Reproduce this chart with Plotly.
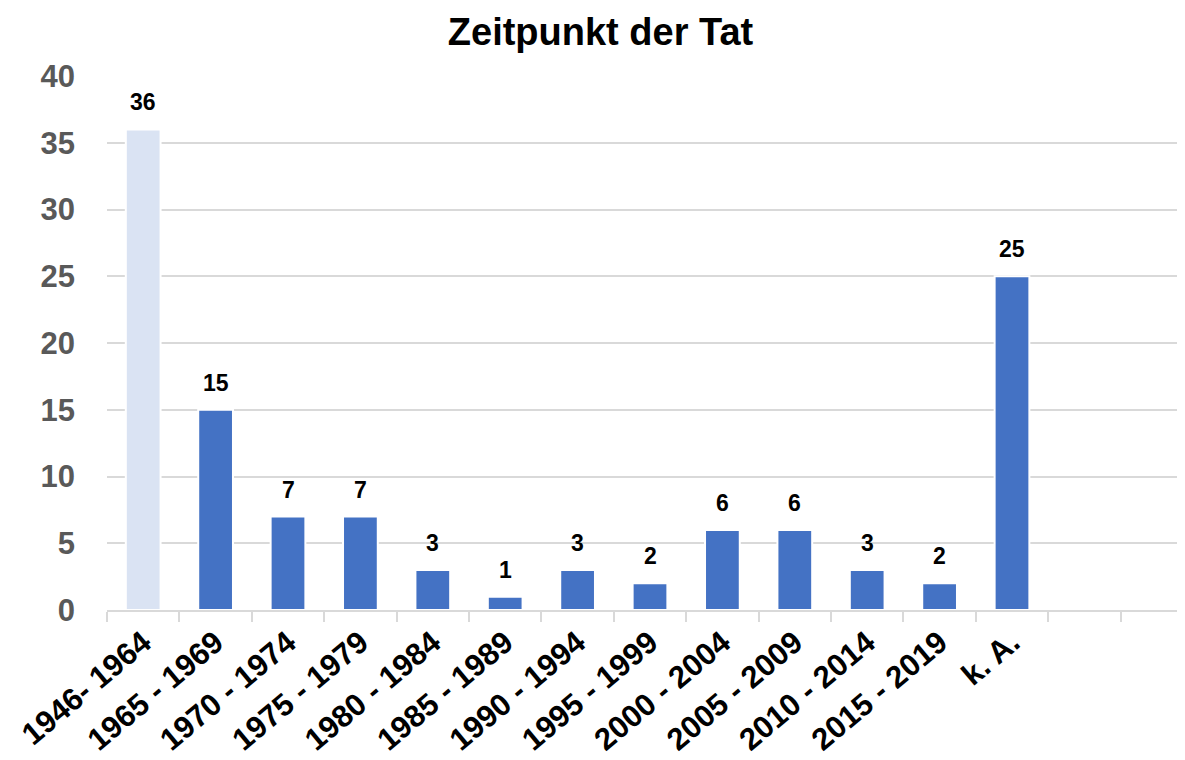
import plotly.graph_objects as go

categories = ["1946- 1964", "1965 - 1969", "1970 - 1974", "1975 - 1979", "1980 - 1984",
              "1985 - 1989", "1990 - 1994", "1995 - 1999", "2000 - 2004", "2005 - 2009",
              "2010 - 2014", "2015 - 2019", "k. A."]
values = [36, 15, 7, 7, 3, 1, 3, 2, 6, 6, 3, 2, 25]
empty_slots = [" ", "  "]
bar_colors = ["#DAE3F3"] + ["#4472C4"] * (len(categories) - 1)

all_cats = categories + empty_slots
FONT = "Liberation Sans"

fig = go.Figure()
fig.add_trace(go.Bar(
    x=categories, y=values,
    marker=dict(color=bar_colors, line=dict(color="white", width=2)),
    width=0.48,
    cliponaxis=False,
    hoverinfo="skip",
))

for c, v in zip(categories, values):
    fig.add_annotation(
        x=c, y=v, text=f"<b>{v}</b>", showarrow=False,
        yanchor="bottom", yshift=12,
        font=dict(family=FONT, size=23, color="black"),
    )

fig.update_layout(
    width=1185, height=760,
    margin=dict(l=99, r=0, t=68, b=158, autoexpand=False),
    paper_bgcolor="white", plot_bgcolor="white",
    showlegend=False,
    title=dict(text="<b>Zeitpunkt der Tat</b>", x=0.5, xanchor="center", y=1 - 24 / 760, yanchor="middle",
               xref="container", yref="container",
               font=dict(family=FONT, size=38, color="black")),
    font=dict(family=FONT),
)
fig.update_xaxes(
    type="category", categoryorder="array", categoryarray=all_cats,
    range=[-0.5, 14.5], automargin=False,
    tickson="boundaries", ticks="outside", ticklen=10, tickcolor="#D9D9D9", tickwidth=2,
    showline=True, linecolor="#D9D9D9", linewidth=2,
    showgrid=False,
    tickangle=-40,
    tickfont=dict(family=FONT, size=31, color="black", weight="bold"),
)
fig.update_yaxes(
    range=[0, 40], dtick=5, automargin=False,
    showgrid=True, gridcolor="#D9D9D9", gridwidth=1.5,
    zeroline=False,
    ticks="", ticklabelstandoff=31,
    tickfont=dict(family=FONT, size=31, color="#595959", weight="bold"),
)

fig.write_html("out.html")
